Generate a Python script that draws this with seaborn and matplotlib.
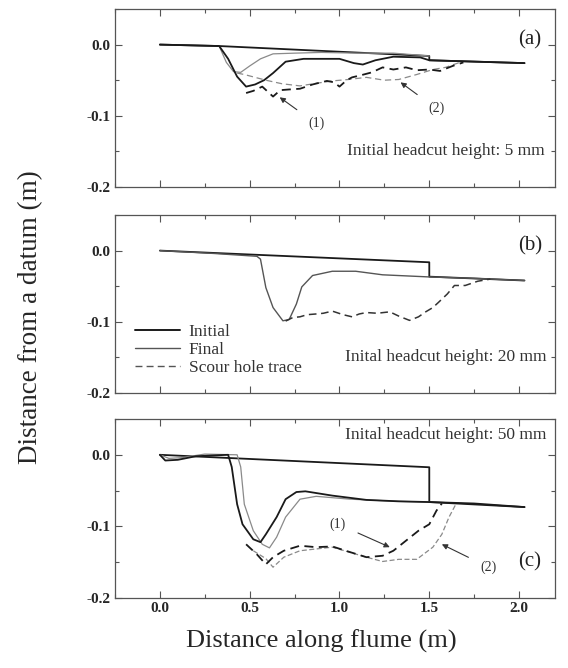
import numpy as np
import pandas as pd
import matplotlib
matplotlib.use("Agg")
import matplotlib.pyplot as plt
from matplotlib.ticker import MultipleLocator
from matplotlib.lines import Line2D
import seaborn as sns

sns.set_style("ticks")
plt.rcParams['font.family'] = ['Liberation Serif', 'DejaVu Serif']

# ---------------- Panel (a): headcut 5 mm ----------------
a_init_x = [0.0, 0.33, 1.5, 1.5, 2.03]
a_init_y = [0.0, -0.002, -0.016, -0.022, -0.026]
a_fin1_x = [0.0, 0.33, 0.38, 0.43, 0.48, 0.53, 0.58, 0.63, 0.70, 0.80, 1.0, 1.08, 1.13, 1.20, 1.30, 1.45, 1.5, 2.03]
a_fin1_y = [0.0, -0.002, -0.02, -0.045, -0.059, -0.056, -0.050, -0.040, -0.024, -0.020, -0.020, -0.026, -0.028, -0.022, -0.017, -0.018, -0.022, -0.026]
a_fin2_x = [0.33, 0.37, 0.41, 0.45, 0.50, 0.56, 0.63, 0.75, 0.90, 1.10, 1.30, 1.5]
a_fin2_y = [-0.002, -0.025, -0.038, -0.039, -0.030, -0.020, -0.013, -0.012, -0.011, -0.012, -0.012, -0.016]
a_sc1_x = [0.48, 0.52, 0.57, 0.60, 0.63, 0.67, 0.72, 0.78, 0.85, 0.93, 0.97, 1.0, 1.04, 1.07, 1.12, 1.18, 1.24, 1.30, 1.37, 1.43, 1.5, 1.56, 1.63, 1.69]
a_sc1_y = [-0.068, -0.065, -0.059, -0.066, -0.073, -0.064, -0.063, -0.062, -0.056, -0.051, -0.053, -0.059, -0.050, -0.046, -0.043, -0.039, -0.032, -0.035, -0.032, -0.036, -0.035, -0.037, -0.030, -0.025]
a_sc2_x = [0.43, 0.47, 0.53, 0.59, 0.68, 0.78, 0.88, 0.96, 1.05, 1.15, 1.25, 1.33, 1.43, 1.52, 1.59, 1.67]
a_sc2_y = [-0.040, -0.042, -0.046, -0.050, -0.055, -0.058, -0.054, -0.051, -0.049, -0.046, -0.050, -0.049, -0.042, -0.035, -0.032, -0.025]

# ---------------- Panel (b): headcut 20 mm ----------------
b_init_x = [0.0, 1.5, 1.5, 2.03]
b_init_y = [0.0, -0.0164, -0.0366, -0.042]
b_fin_x = [0.0, 0.30, 0.54, 0.56, 0.59, 0.63, 0.685, 0.72, 0.76, 0.79, 0.85, 0.96, 1.09, 1.24, 1.5, 1.75, 2.03]
b_fin_y = [0.0, -0.004, -0.008, -0.012, -0.052, -0.080, -0.0986, -0.0967, -0.075, -0.051, -0.035, -0.029, -0.029, -0.034, -0.037, -0.039, -0.042]
b_sc_x = [0.70, 0.74, 0.78, 0.82, 0.87, 0.91, 0.96, 1.02, 1.07, 1.11, 1.15, 1.21, 1.28, 1.33, 1.39, 1.44, 1.48, 1.52, 1.55, 1.60, 1.64, 1.70, 1.77, 1.84]
b_sc_y = [-0.099, -0.094, -0.093, -0.090, -0.089, -0.088, -0.085, -0.090, -0.093, -0.089, -0.087, -0.088, -0.086, -0.092, -0.098, -0.093, -0.086, -0.080, -0.073, -0.061, -0.049, -0.049, -0.043, -0.040]

# ---------------- Panel (c): headcut 50 mm ----------------
c_init_x = [0.0, 1.5, 1.5, 2.03]
c_init_y = [0.0, -0.0174, -0.066, -0.073]
c_fin1_x = [0.0, 0.03, 0.10, 0.20, 0.38, 0.40, 0.43, 0.46, 0.52, 0.56, 0.59, 0.65, 0.70, 0.76, 0.81, 0.96, 1.15, 1.33, 1.5, 1.75, 2.03]
c_fin1_y = [0.0, -0.008, -0.007, -0.002, 0.0, -0.017, -0.069, -0.097, -0.118, -0.122, -0.111, -0.087, -0.062, -0.052, -0.051, -0.057, -0.063, -0.065, -0.066, -0.068, -0.073]
c_fin2_x = [0.0, 0.05, 0.12, 0.25, 0.43, 0.45, 0.47, 0.52, 0.57, 0.61, 0.65, 0.70, 0.78, 0.87, 1.06, 1.33, 1.5]
c_fin2_y = [0.0, -0.005, -0.004, 0.001, 0.0, -0.017, -0.069, -0.106, -0.125, -0.130, -0.115, -0.087, -0.062, -0.058, -0.062, -0.065, -0.066]
c_sc1_x = [0.48, 0.54, 0.59, 0.63, 0.69, 0.78, 0.87, 0.96, 1.06, 1.15, 1.24, 1.30, 1.37, 1.44, 1.50, 1.54, 1.57]
c_sc1_y = [-0.125, -0.139, -0.153, -0.143, -0.134, -0.127, -0.129, -0.128, -0.136, -0.143, -0.141, -0.134, -0.120, -0.106, -0.097, -0.078, -0.068]
c_sc2_x = [0.52, 0.59, 0.63, 0.69, 0.78, 0.96, 1.15, 1.24, 1.33, 1.43, 1.52, 1.57, 1.61, 1.65]
c_sc2_y = [-0.134, -0.145, -0.157, -0.143, -0.134, -0.129, -0.143, -0.149, -0.146, -0.146, -0.129, -0.111, -0.087, -0.068]

x_ticks = [0.0, 0.5, 1.0, 1.5, 2.0]
x_tick_labels = ["0.0", "0.5", "1.0", "1.5", "2.0"]
y_ticks = [0.0, -0.1, -0.2]
y_tick_labels = ["0.0", "-0.1", "-0.2"]

DARK = "#1a1a1a"
LIGHT = "#8a8a8a"

fig = plt.figure(figsize=(5.68, 6.68), dpi=100)
L, W = 115 / 568, 440 / 568
pos = [(9, 187), (215, 393), (419, 598)]
axes = []
for top, bot in pos:
    ax = fig.add_axes([L, 1 - bot / 668, W, (bot - top) / 668])
    axes.append(ax)


def line(ax, x, y, color, lw, ls="-"):
    df = pd.DataFrame({"x": x, "y": y})
    sns.lineplot(data=df, x="x", y="y", ax=ax, color=color, linewidth=lw,
                 linestyle=ls, sort=False, estimator=None, errorbar=None)


# Panel a
ax = axes[0]
line(ax, a_init_x, a_init_y, DARK, 1.3)
line(ax, a_fin2_x, a_fin2_y, LIGHT, 0.9)
line(ax, a_fin1_x, a_fin1_y, DARK, 1.3)
line(ax, a_sc2_x, a_sc2_y, LIGHT, 0.9, (0, (5, 3)))
line(ax, a_sc1_x, a_sc1_y, DARK, 1.3, (0, (5, 3)))

# Panel b
ax = axes[1]
line(ax, b_init_x, b_init_y, DARK, 1.3)
line(ax, b_fin_x, b_fin_y, "#555555", 1.0)
line(ax, b_sc_x, b_sc_y, "#333333", 1.1, (0, (5, 3)))

# Panel c
ax = axes[2]
line(ax, c_init_x, c_init_y, DARK, 1.3)
line(ax, c_fin2_x, c_fin2_y, LIGHT, 0.9)
line(ax, c_fin1_x, c_fin1_y, DARK, 1.3)
line(ax, c_sc2_x, c_sc2_y, LIGHT, 0.9, (0, (4, 2)))
line(ax, c_sc1_x, c_sc1_y, DARK, 1.3, (0, (5, 3)))

for i, ax in enumerate(axes):
    ax.set_xlim(-0.25, 2.2)
    ax.set_ylim(-0.2, 0.05)
    ax.set_xticks(x_ticks)
    ax.set_yticks(y_ticks)
    ax.xaxis.set_minor_locator(MultipleLocator(0.25))
    ax.yaxis.set_minor_locator(MultipleLocator(0.05))
    ax.tick_params(which="both", direction="in", top=True, right=True,
                   color="#555555")
    ax.tick_params(which="major", length=5, width=0.8)
    ax.tick_params(which="minor", length=3, width=0.8)
    ax.set_yticklabels(y_tick_labels, fontsize=11, fontweight="bold")
    if i < 2:
        ax.set_xticklabels([])
    else:
        ax.set_xticklabels(x_tick_labels, fontsize=11, fontweight="bold")
        ax.tick_params(axis="x", pad=3)
    ax.set_xlabel("")
    ax.set_ylabel("")
    for s in ax.spines.values():
        s.set_color("#555555")
        s.set_linewidth(0.9)

# Annotations panel a
ax = axes[0]
ax.text(2.06, 0.007, "(a)", fontsize=15, ha="center", va="center", color="#222222")
ax.text(2.14, -0.15, "Initial headcut height: 5 mm", fontsize=12.5, ha="right",
        va="center", color="#333333")
ax.annotate("(1)", xy=(0.667, -0.074), xytext=(0.87, -0.111), fontsize=10,
            ha="center", va="center", color="#333333",
            arrowprops=dict(arrowstyle="-|>", color="#333333", lw=0.8,
                            shrinkA=7, shrinkB=0, mutation_scale=8))
ax.annotate("(2)", xy=(1.34, -0.053), xytext=(1.54, -0.09), fontsize=10,
            ha="center", va="center", color="#333333",
            arrowprops=dict(arrowstyle="-|>", color="#333333", lw=0.8,
                            shrinkA=7, shrinkB=0, mutation_scale=8))

# Panel b
ax = axes[1]
ax.text(2.06, 0.007, "(b)", fontsize=15, ha="center", va="center", color="#222222")
ax.text(2.15, -0.15, "Inital headcut height: 20 mm", fontsize=12.5, ha="right",
        va="center", color="#333333")
handles = [Line2D([], [], color=DARK, lw=1.4),
           Line2D([], [], color="#555555", lw=1.0),
           Line2D([], [], color="#555555", lw=1.0, ls=(0, (5, 3)))]
leg = ax.legend(handles, ["Initial", "Final", "Scour hole trace"],
                loc="center left", bbox_to_anchor=(0.045, 0.242), frameon=False,
                fontsize=12.5, borderaxespad=0, borderpad=0, handlelength=2.6,
                handletextpad=0.5, labelspacing=0.12)
for t in leg.get_texts():
    t.set_color("#333333")

# Panel c
ax = axes[2]
ax.text(2.06, -0.150, "(c)", fontsize=15, ha="center", va="center", color="#222222")
ax.text(2.15, 0.027, "Inital headcut height: 50 mm", fontsize=12.5, ha="right",
        va="center", color="#333333")
ax.annotate("(1)", xy=(1.28, -0.129), xytext=(0.99, -0.0966), fontsize=10,
            ha="center", va="center", color="#333333",
            arrowprops=dict(arrowstyle="-|>", color="#333333", lw=0.8,
                            shrinkA=7, shrinkB=0, mutation_scale=8))
ax.annotate("(2)", xy=(1.57, -0.125), xytext=(1.83, -0.157), fontsize=10,
            ha="center", va="center", color="#333333",
            arrowprops=dict(arrowstyle="-|>", color="#333333", lw=0.8,
                            shrinkA=7, shrinkB=0, mutation_scale=8))

fig.text(0.054, 0.525, "Distance from a datum (m)", rotation=90, fontsize=19.5,
         ha="center", va="center")
fig.text(0.565, 0.04, "Distance along flume (m)", fontsize=19,
         ha="center", va="center")

fig.savefig("out.png", dpi=100)
